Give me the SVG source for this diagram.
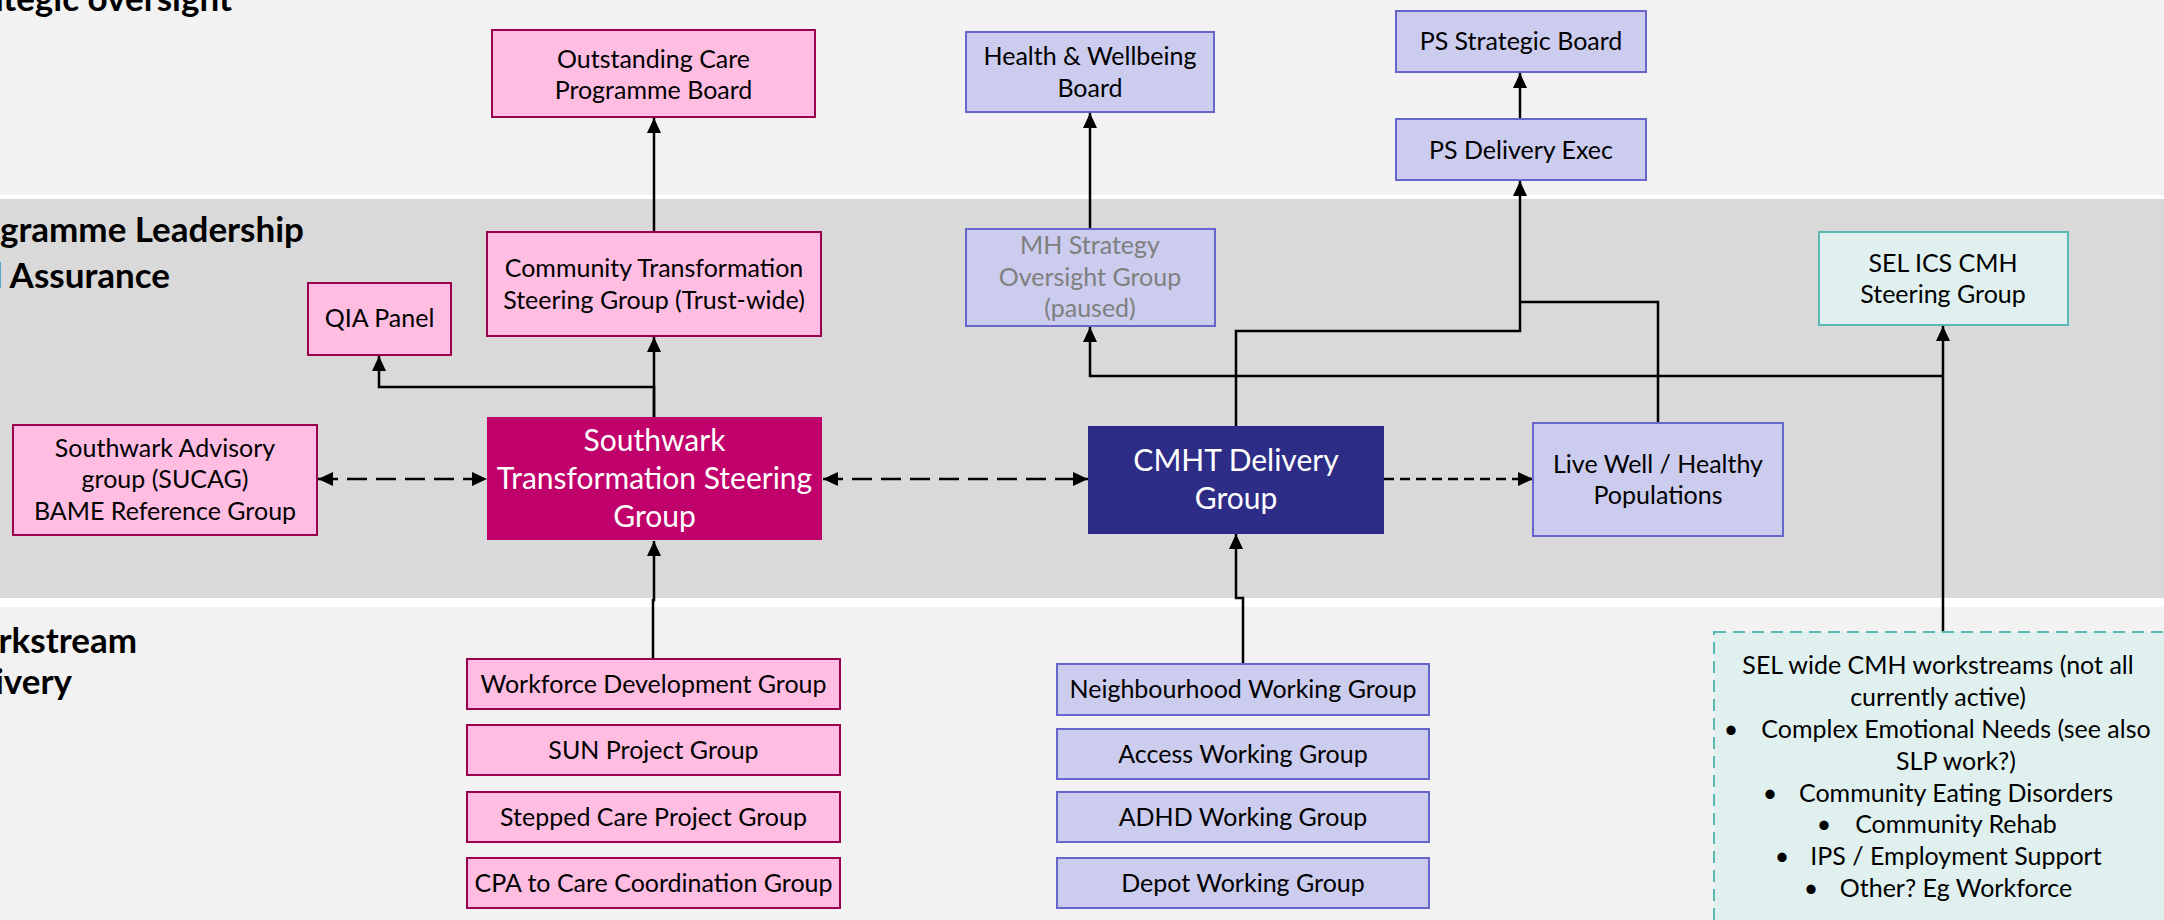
<svg xmlns="http://www.w3.org/2000/svg" width="2164" height="920" viewBox="0 0 2164 920">
<defs>
<style>
.t{font-family:Lato,"Liberation Sans",sans-serif;font-size:25px;fill:#000;text-anchor:middle}
.tb{font-family:Lato,"Liberation Sans",sans-serif;font-size:30px;fill:#fff;text-anchor:middle}
.hd{font-family:Lato,"Liberation Sans",sans-serif;font-size:35px;font-weight:bold;fill:#000;text-anchor:end}
.pink{fill:#ffbde2;stroke:#990050;stroke-width:2}
.lav{fill:#ccccee;stroke:#6666cc;stroke-width:2}
.teal{fill:#dff0ef;stroke:#5cb8b2;stroke-width:2}
.c{fill:none;stroke:#000;stroke-width:2.5}
.g{fill:#7f7f7f}
</style>
<marker id="ah" viewBox="0 0 15 14" refX="15" refY="7" markerWidth="15" markerHeight="14" markerUnits="userSpaceOnUse" orient="auto-start-reverse">
<path d="M0,0 L15,7 L0,14 z" fill="#000"/>
</marker>
</defs>
<rect width="2164" height="920" fill="#fff"/>
<g id="bands">
<rect x="0" y="0" width="2164" height="195" fill="#f2f2f2"/>
<rect x="0" y="199" width="2164" height="399" fill="#d9d9d9"/>
<rect x="0" y="607" width="2164" height="313" fill="#f2f2f2"/>
<text class="hd" x="232" y="11">Strategic oversight</text>
<text class="hd" x="304" y="242">Programme Leadership</text>
<text class="hd" x="170" y="288">and Assurance</text>
<text class="hd" x="137" y="653">Workstream</text>
<text class="hd" x="72" y="694">Delivery</text>
</g>
<g id="connectors">
<path class="c" d="M654,232 V118" marker-end="url(#ah)"/>
<path class="c" d="M654,417 V337" marker-end="url(#ah)"/>
<path class="c" d="M654,417 V387 H379 V356" marker-end="url(#ah)"/>
<path class="c" d="M318,479 H487" stroke-width="2" stroke-dasharray="20 9" marker-start="url(#ah)" marker-end="url(#ah)"/>
<path class="c" d="M823,479 H1088" stroke-width="2" stroke-dasharray="20 9" marker-start="url(#ah)" marker-end="url(#ah)"/>
<path class="c" d="M1384,479 H1533" stroke-width="3" stroke-dasharray="10 6" marker-end="url(#ah)"/>
<path class="c" d="M653,659 V600 H654 V541" marker-end="url(#ah)"/>
<path class="c" d="M1243,664 V598 H1236 V534" marker-end="url(#ah)"/>
<path class="c" d="M1090,229 V113" marker-end="url(#ah)"/>
<path class="c" d="M1520,119 V73" marker-end="url(#ah)"/>
<path class="c" d="M1236,426 V331 H1520 V181" marker-end="url(#ah)"/>
<path class="c" d="M1658,423 V302 H1520"/>
<path class="c" d="M1943,632 V326" marker-end="url(#ah)"/>
<path class="c" d="M1943,376 H1090 V327" marker-end="url(#ah)"/>
</g>
<g id="n-outstanding"><rect class="pink" x="492" y="30" width="323" height="87"/>
<text class="t" x="653.5" y="68">Outstanding Care</text><text class="t" x="653.5" y="99">Programme Board</text></g>
<g id="n-hwb"><rect class="lav" x="966" y="32" width="248" height="80"/>
<text class="t" x="1090" y="65">Health &amp; Wellbeing</text><text class="t" x="1090" y="97">Board</text></g>
<g id="n-psboard"><rect class="lav" x="1396" y="11" width="250" height="61"/>
<text class="t" x="1521" y="50">PS Strategic Board</text></g>
<g id="n-psexec"><rect class="lav" x="1396" y="119" width="250" height="61"/>
<text class="t" x="1521" y="159">PS Delivery Exec</text></g>
<g id="n-commtrans"><rect class="pink" x="487" y="232" width="334" height="104"/>
<text class="t" x="654" y="277">Community Transformation</text><text class="t" x="654" y="309">Steering Group (Trust-wide)</text></g>
<g id="n-qia"><rect class="pink" x="308" y="283" width="143" height="72"/>
<text class="t" x="379.5" y="327">QIA Panel</text></g>
<g id="n-mhstrategy"><rect class="lav" x="966" y="229" width="249" height="97"/>
<text class="t g" x="1090" y="254">MH Strategy</text><text class="t g" x="1090" y="286">Oversight Group</text><text class="t g" x="1090" y="317">(paused)</text></g>
<g id="n-selics"><rect class="teal" x="1819" y="232" width="249" height="93"/>
<text class="t" x="1943" y="272">SEL ICS CMH</text><text class="t" x="1943" y="303">Steering Group</text></g>
<g id="n-advisory"><rect class="pink" x="13" y="425" width="304" height="110"/>
<text class="t" x="165" y="457">Southwark Advisory</text><text class="t" x="165" y="488">group (SUCAG)</text><text class="t" x="165" y="520">BAME Reference Group</text></g>
<g id="n-stsg"><rect x="487" y="417" width="335" height="123" fill="#c0006b"/>
<text class="tb" x="654.5" y="451">Southwark</text><text class="tb" x="654.5" y="489">Transformation Steering</text><text class="tb" x="654.5" y="527">Group</text></g>
<g id="n-cmht"><rect x="1088" y="426" width="296" height="108" fill="#2d2d87"/>
<text class="tb" x="1236" y="471">CMHT Delivery</text><text class="tb" x="1236" y="509">Group</text></g>
<g id="n-livewell"><rect class="lav" x="1533" y="423" width="250" height="113"/>
<text class="t" x="1658" y="473">Live Well / Healthy</text><text class="t" x="1658" y="504">Populations</text></g>
<g id="n-workforce"><rect class="pink" x="467" y="659" width="373" height="50"/>
<text class="t" x="653.5" y="693">Workforce Development Group</text></g>
<g id="n-sun"><rect class="pink" x="467" y="725" width="373" height="50"/>
<text class="t" x="653.5" y="759">SUN Project Group</text></g>
<g id="n-stepped"><rect class="pink" x="467" y="792" width="373" height="50"/>
<text class="t" x="653.5" y="826">Stepped Care Project Group</text></g>
<g id="n-cpa"><rect class="pink" x="467" y="858" width="373" height="50"/>
<text class="t" x="653.5" y="892">CPA to Care Coordination Group</text></g>
<g id="n-neighbourhood"><rect class="lav" x="1057" y="664" width="372" height="51"/>
<text class="t" x="1243" y="698">Neighbourhood Working Group</text></g>
<g id="n-access"><rect class="lav" x="1057" y="729" width="372" height="50"/>
<text class="t" x="1243" y="763">Access Working Group</text></g>
<g id="n-adhd"><rect class="lav" x="1057" y="792" width="372" height="50"/>
<text class="t" x="1243" y="826">ADHD Working Group</text></g>
<g id="n-depot"><rect class="lav" x="1057" y="858" width="372" height="50"/>
<text class="t" x="1243" y="892">Depot Working Group</text></g>
<g id="n-selwide"><rect x="1714" y="632" width="480" height="310" fill="#dff0ef" stroke="#5cb8b2" stroke-width="2" stroke-dasharray="12 7"/>
<text class="t" x="1938" y="674">SEL wide CMH workstreams (not all</text>
<text class="t" x="1938" y="706">currently active)</text>
<text class="t" x="1731" y="738">•</text><text class="t" x="1956" y="738">Complex Emotional Needs (see also</text>
<text class="t" x="1956" y="770">SLP work?)</text>
<text class="t" x="1770" y="802">•</text><text class="t" x="1956" y="802">Community Eating Disorders</text>
<text class="t" x="1824" y="833">•</text><text class="t" x="1956" y="833">Community Rehab</text>
<text class="t" x="1782" y="865">•</text><text class="t" x="1956" y="865">IPS / Employment Support</text>
<text class="t" x="1811" y="897">•</text><text class="t" x="1956" y="897">Other? Eg Workforce</text>
</g>
</svg>
